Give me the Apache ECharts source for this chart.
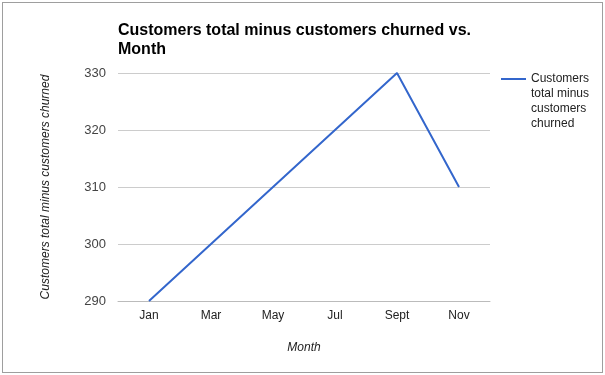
<!DOCTYPE html>
<html><head><meta charset="utf-8">
<script src="https://cdn.jsdelivr.net/npm/echarts@6/dist/echarts.min.js"></script>
<style>
html,body{margin:0;padding:0;background:#fff;width:605px;height:375px;overflow:hidden;}
#frame{position:absolute;left:2px;top:2px;width:599px;height:369px;border:1px solid #9e9e9e;background:#fff;}
#chart{position:absolute;left:-3px;top:-3px;width:605px;height:375px;}
</style>
</head><body>
<div id="frame"><div id="chart"></div></div>
<script>
const categories = ['Jan','Mar','May','Jul','Sept','Nov'];
const values = [290, 300, 310, 320, 330, 310];
const seriesName = 'Customers total minus customers churned';
const yTicks = {min: 290, max: 330, interval: 10};

const chart = echarts.init(document.getElementById('chart'), null, {renderer:'canvas'});
const font = 'Liberation Sans, Arial, sans-serif';
chart.setOption({
  animation:false,
  title:{
    text:'Customers total minus customers churned vs.\nMonth',
    left:113, top:16,
    textStyle:{fontFamily:font, fontSize:16, fontWeight:'bold', color:'#000', lineHeight:19}
  },
  legend:{
    show:true,
    orient:'vertical',
    left:496, top:66.5,
    itemWidth:25, itemHeight:60,
    icon:'path://M0,0 L0,0 M0,6.5 H25 V8.5 H0 Z M0,60 L0,60',
    itemStyle:{color:'#3366cc', borderWidth:0},
    formatter:function(){ return 'Customers\ntotal minus\ncustomers\nchurned'; },
    textStyle:{fontFamily:font, fontSize:12, color:'#222', lineHeight:15},
    data:[seriesName]
  },
  grid:{left:118, right:115, top:73, bottom:74, containLabel:false},
  xAxis:{
    type:'category', data:categories, boundaryGap:true,
    name:'Month', nameLocation:'middle', nameGap:41,
    nameTextStyle:{fontFamily:font, fontSize:12, fontStyle:'italic', color:'#222'},
    axisLine:{show:true, lineStyle:{color:'#bbb', width:1}},
    axisTick:{show:false},
    axisLabel:{fontFamily:font, fontSize:12, color:'#222', margin:9}
  },
  yAxis:{
    type:'value', min:yTicks.min, max:yTicks.max, interval:yTicks.interval,
    name:'Customers total minus customers churned', nameLocation:'middle', nameGap:66, nameRotate:90,
    nameTextStyle:{fontFamily:font, fontSize:12, fontStyle:'italic', color:'#222'},
    axisLine:{show:false}, axisTick:{show:false},
    axisLabel:{fontFamily:font, fontSize:13, color:'#444', margin:12},
    splitLine:{lineStyle:{color:'#ccc', width:1}}
  },
  series:[{
    name:seriesName, type:'line', data:values,
    symbol:'none', lineStyle:{color:'#3366cc', width:2}, itemStyle:{color:'#3366cc'}
  }]
});
</script>
</body></html>
